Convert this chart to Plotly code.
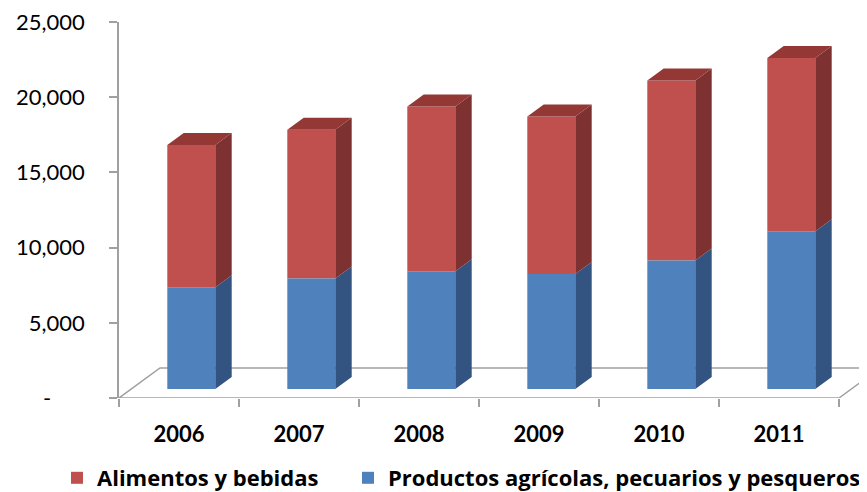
import plotly.graph_objects as go

years = ["2006", "2007", "2008", "2009", "2010", "2011"]
productos = [6770, 7350, 7830, 7650, 8550, 10490]
alimentos = [9450, 9890, 10960, 10470, 11970, 11510]
series_names = ["Alimentos y bebidas", "Productos agrícolas, pecuarios y pesqueros"]
y_ticks = [0, 5000, 10000, 15000, 20000, 25000]
y_ticktext = ["-" + "\u00a0" * 6, "5,000", "10,000", "15,000", "20,000", "25,000"]

BLUE, BLUE_SIDE = "#4F81BD", "#335481"
RED, RED_SIDE, RED_TOP = "#C0504D", "#7D3130", "#943836"
GRAY = "#A0A0A0"

# the page body adds an 8px offset; figure size compensates for it
W, H = 859, 484
L, T, B = 111, 14, 94
PLOT_W, PLOT_H = W - L, H - T - B

# oblique 3-D geometry (in axis units)
PX_PER_UNIT_Y = PLOT_H / 25000.0
CAT_PX = 120.0
DX = 41 / CAT_PX         # floor depth along x (category units)
DY = 30 / PX_PER_UNIT_Y  # floor depth along y (value units)
BW = 0.4                 # bar width
FRONT, BACK = 0.3, 0.7   # bar depth span
fx, fy = FRONT * DX, FRONT * DY
sx, sy = (BACK - FRONT) * DX, (BACK - FRONT) * DY

idx = list(range(len(years)))
xc = [i + fx for i in idx]
blue_base = [fy] * len(years)
red_base = [fy + b for b in productos]
red_top = [fy + b + r for b, r in zip(productos, alimentos)]


def side_polys(bases, tops):
    xs, ys = [], []
    for x, b, t in zip(xc, bases, tops):
        xr = x + BW / 2
        xs += [xr, xr + sx, xr + sx, xr, xr, None]
        ys += [b, b + sy, t + sy, t, b, None]
    return xs, ys


def top_polys(tops):
    xs, ys = [], []
    for x, t in zip(xc, tops):
        xl, xr = x - BW / 2, x + BW / 2
        xs += [xl, xl + sx, xr + sx, xr, xl, None]
        ys += [t, t + sy, t + sy, t, t, None]
    return xs, ys


fig = go.Figure()
fig.add_trace(go.Bar(x=xc, y=alimentos, base=red_base, width=BW,
                     name=series_names[0], legend="legend",
                     marker=dict(color=RED, line=dict(width=0))))
fig.add_trace(go.Bar(x=xc, y=productos, base=blue_base, width=BW,
                     name=series_names[1], legend="legend2",
                     marker=dict(color=BLUE, line=dict(width=0))))

bx, by = side_polys(blue_base, red_base)
fig.add_trace(go.Scatter(x=bx, y=by, fill="toself", fillcolor=BLUE_SIDE, mode="lines",
                         line=dict(width=0, color=BLUE_SIDE), showlegend=False, hoverinfo="skip"))
rx, ry = side_polys(red_base, red_top)
fig.add_trace(go.Scatter(x=rx, y=ry, fill="toself", fillcolor=RED_SIDE, mode="lines",
                         line=dict(width=0, color=RED_SIDE), showlegend=False, hoverinfo="skip"))
tx, ty = top_polys(red_top)
fig.add_trace(go.Scatter(x=tx, y=ty, fill="toself", fillcolor=RED_TOP, mode="lines",
                         line=dict(width=0, color=RED_TOP), showlegend=False, hoverinfo="skip"))

n = len(years)
floor_path = (f"M {-0.5},0 L {n - 0.5},0 L {n - 0.5 + DX},{DY} "
              f"L {-0.5 + DX},{DY} Z")
fig.add_shape(type="path", path=floor_path, xref="x", yref="y", layer="below",
              line=dict(color=GRAY, width=1.5), fillcolor="rgba(0,0,0,0)")

legend_font = dict(family="Open Sans", size=22, color="black", weight="bold")
fig.update_layout(
    width=W, height=H,
    margin=dict(l=L, r=0, t=T, b=B, autoexpand=False),
    paper_bgcolor="white", plot_bgcolor="white",
    barmode="overlay",
    font=dict(family="Lato", color="black"),
    showlegend=True,
    legend=dict(orientation="h", xref="container", yref="container",
                x=49 / W, xanchor="left", y=1 - 470 / H, yanchor="middle",
                font=legend_font, bgcolor="rgba(0,0,0,0)"),
    legend2=dict(orientation="h", xref="container", yref="container",
                 x=340 / W, xanchor="left", y=1 - 470 / H, yanchor="middle",
                 font=legend_font, bgcolor="rgba(0,0,0,0)"),
    xaxis=dict(range=[-0.5, -0.5 + PLOT_W / CAT_PX], tickmode="array", tickvals=idx,
               ticktext=years, ticks="", showline=False, showgrid=False, zeroline=False,
               tickfont=dict(family="Lato", size=22, color="black", weight="bold"),
               ticklabelstandoff=21,
               minor=dict(ticks="outside", tick0=-0.5, dtick=1, ticklen=8,
                          tickcolor=GRAY, tickwidth=1.5, showgrid=False)),
    yaxis=dict(range=[0, 25000], tickmode="array", tickvals=y_ticks, ticktext=y_ticktext,
               ticks="outside", ticklen=8, tickcolor=GRAY, tickwidth=1.5,
               showline=True, linecolor=GRAY, linewidth=1.5,
               showgrid=False, zeroline=False, ticklabelstandoff=20,
               ticklabeloverflow="allow",
               tickfont=dict(family="Lato", size=22, color="black")),
)

fig.write_html("out.html")
